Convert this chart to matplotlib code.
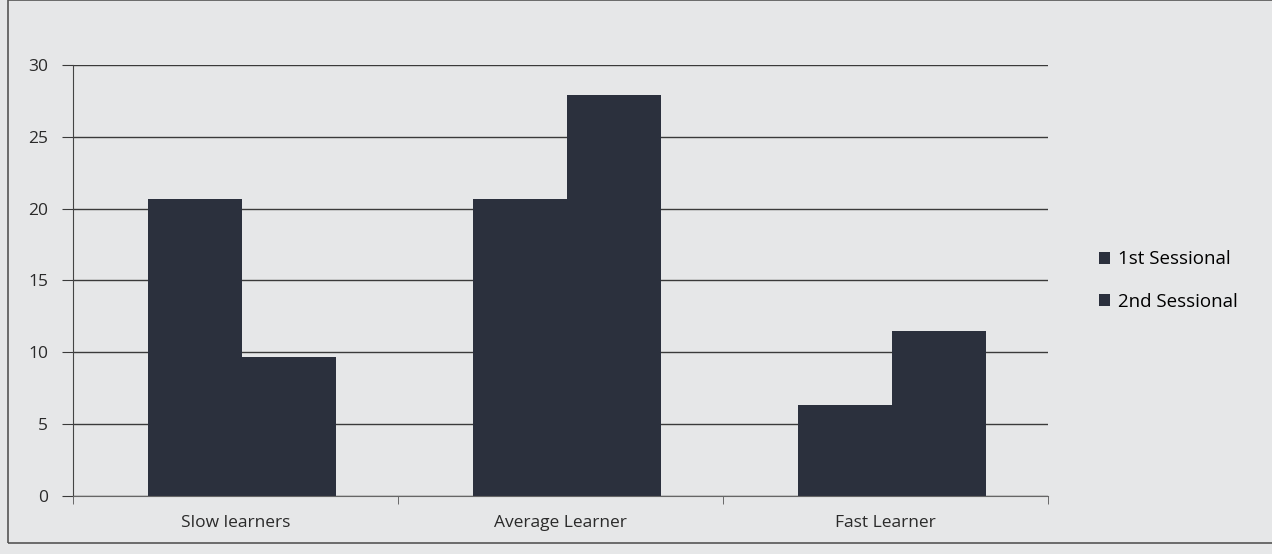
import matplotlib.pyplot as plt
import numpy as np
from matplotlib.patches import Rectangle

categories = ["Slow learners", "Average Learner", "Fast Learner"]
series_names = ["1st Sessional", "2nd Sessional"]
first_sessional = [20.7, 20.7, 6.3]
second_sessional = [9.7, 27.9, 11.5]
y_ticks = [0, 5, 10, 15, 20, 25, 30]

plt.rcParams['font.family'] = ['Open Sans', 'DejaVu Sans']

bg = '#e6e7e8'
bar_color = '#2b303d'

fig = plt.figure(figsize=(12.72, 5.54), dpi=100)
fig.patch.set_facecolor(bg)

ax = fig.add_axes([0.0574, 0.1047, 0.7666, 0.778])
ax.set_facecolor(bg)

x = np.arange(len(categories))
w = 0.29
ax.bar(x - w / 2 + 0.02, first_sessional, width=w, color=bar_color, label=series_names[0])
ax.bar(x + w / 2 + 0.02, second_sessional, width=w, color=bar_color, label=series_names[1])

ax.set_xlim(-0.5, 2.5)
ax.set_ylim(0, 30)
ax.set_yticks(y_ticks)
ax.set_yticklabels([str(t) for t in y_ticks], fontsize=12.5, color='#2a2a2a')
ax.yaxis.grid(True, color='#3a3a3a', linewidth=1.0)
ax.set_axisbelow(True)

ax.set_xticks(x)
ax.set_xticklabels(categories, fontsize=12.5, color='#2a2a2a')
ax.tick_params(axis='x', length=0, pad=14)
ax.set_xticks([-0.5, 0.5, 1.5, 2.5], minor=True)
ax.tick_params(axis='x', which='minor', length=6, direction='out', color='#555555')
ax.tick_params(axis='y', length=8, direction='out', color='#3a3a3a', pad=10)

for side in ['top', 'right']:
    ax.spines[side].set_visible(False)
ax.spines['left'].set_color('#444444')
ax.spines['bottom'].set_color('#666666')

leg = ax.legend(loc='center left', bbox_to_anchor=(1.035, 0.5), frameon=False,
                fontsize=13.5, handlelength=0.6, handleheight=0.6,
                handletextpad=0.4, labelspacing=1.3)

# outer chart border
fig.add_artist(Rectangle((0.006, 0.02), 1.2, 0.98, transform=fig.transFigure,
                         fill=False, edgecolor='#555555', linewidth=1.2))

fig.savefig('out.png', dpi=100, facecolor=bg)
